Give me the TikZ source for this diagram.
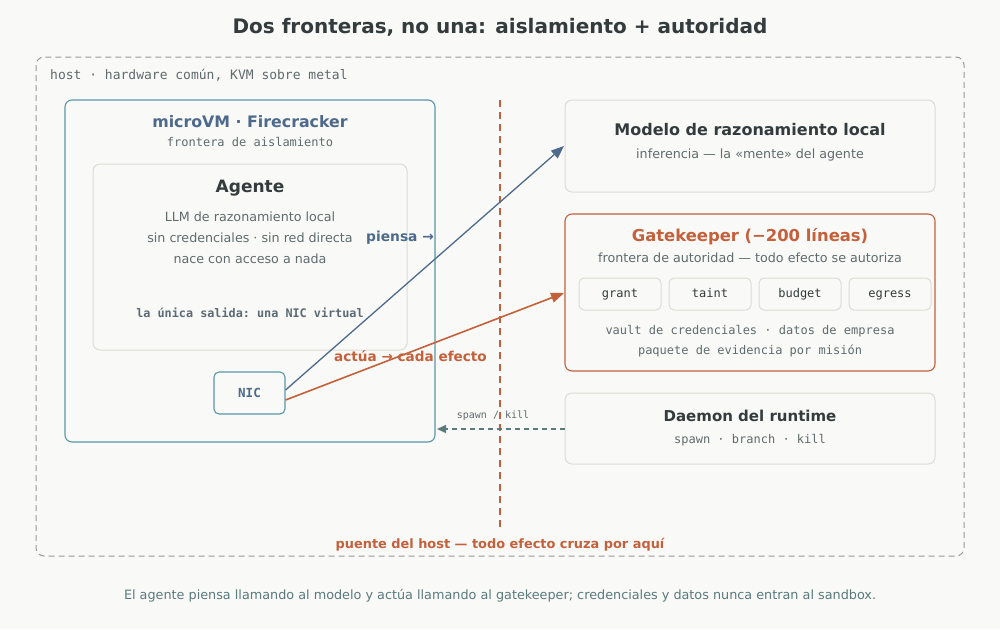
\documentclass[tikz,border=0pt]{standalone}
\usepackage{fontspec}
\setmainfont{DejaVu Sans}
\setmonofont{DejaVu Sans Mono}
\usetikzlibrary{arrows.meta}
\definecolor{bg}{HTML}{F9F9F7}
\definecolor{ink}{HTML}{333B3C}
\definecolor{slate}{HTML}{4D6A8C}
\definecolor{rust}{HTML}{C4603C}
\definecolor{teal}{HTML}{5A98A6}
\definecolor{soft}{HTML}{DEDBD3}
\definecolor{muted}{HTML}{5F6B6D}
\definecolor{hostgray}{HTML}{9A9A94}
\definecolor{arrowgray}{HTML}{5A7A7C}
\tikzset{
  card/.style={draw=soft, line width=1pt, rounded corners=7pt, fill=bg},
  tealcard/.style={draw=teal, line width=1.1pt, rounded corners=7pt, fill=bg},
  rustcard/.style={draw=rust, line width=1.1pt, rounded corners=7pt, fill=bg},
  chip/.style={draw=soft, line width=1pt, rounded corners=5pt, fill=bg, minimum width=82pt, minimum height=32pt, text height=8.5pt, text depth=2.5pt, font=\fontsize{12}{12}\ttfamily\selectfont, text=ink},
  boldtitle/.style={font=\fontsize{#1}{#1}\bfseries\selectfont, text=ink},
  body/.style={font=\fontsize{12.7}{13}\selectfont, text=muted},
  mono/.style={font=\fontsize{#1}{#1}\ttfamily\selectfont, text=muted},
}
\begin{document}
\begin{tikzpicture}[x=1pt,y=-1pt, inner sep=0pt]
\fill[bg] (0,0) rectangle (1000,629);
\useasboundingbox (0,0) rectangle (1000,629);

\node[boldtitle=20] (title) at (500,27) {Dos fronteras, no una: aislamiento + autoridad};

% host
\draw[hostgray, line width=1pt, dash pattern=on 6pt off 4pt, rounded corners=8pt] (36,57) rectangle (964,556);
\node[mono=13, anchor=west] (hostlbl) at (50,75) {host · hardware común, KVM sobre metal};

% bridge line
\coordinate (btop) at (500,100);
\coordinate (bbot) at (500,528);
\draw[rust, line width=1.4pt, dash pattern=on 7pt off 5pt] (btop) -- (bbot);
\node[font=\fontsize{12.9}{13}\bfseries\selectfont, text=rust] (bridge) at (500,545) {puente del host — todo efecto cruza por aquí};

% microVM
\draw[tealcard] (65,100) rectangle (435,442);
\coordinate (vmright) at (437,429);
\node[font=\fontsize{15.8}{16}\bfseries\selectfont, text=slate] (vmtitle) at (250,122) {microVM · Firecracker};
\node[mono=12] (vmsub) at (250,142) {frontera de aislamiento};

% Agente
\draw[card] (93,164) rectangle (407,350);
\node[boldtitle=17] (agtitle) at (250,188) {Agente};
\node[body] (ag1) at (250,217) {LLM de razonamiento local};
\node[body] (ag2) at (250,238) {sin credenciales · sin red directa};
\node[body] (ag3) at (250,259) {nace con acceso a nada};
\node[font=\fontsize{11.8}{12}\ttfamily\bfseries\selectfont, text=muted!80!slate] (ag4) at (250,313) {la única salida: una NIC virtual};

% NIC
\node[draw=teal, line width=1.1pt, rounded corners=5pt, fill=bg, minimum width=71pt, minimum height=42pt, font=\fontsize{12.5}{12}\ttfamily\bfseries\selectfont, text=slate] (nic) at (249.5,393) {NIC};

% Model
\draw[card] (565,100) rectangle (935,192);
\node[boldtitle=16] (mtitle) at (750,130) {Modelo de razonamiento local};
\node[body] (msub) at (750,155) {inferencia — la «mente» del agente};
\coordinate (mleft) at (564,146);

% Gatekeeper
\draw[rustcard] (565,214) rectangle (935,371);
\node[font=\fontsize{16.4}{16}\bfseries\selectfont, text=rust] (gtitle) at (750,237) {Gatekeeper (−200 líneas)};
\node[body] (gsub) at (750,258) {frontera de autoridad — todo efecto se autoriza};
\node[chip] (grant) at (620,294) {grant};
\node[chip] (taint) at (710,294) {taint};
\node[chip] (budget) at (800,294) {budget};
\node[chip] (egress) at (890,294) {egress};
\node[mono=12] (g1) at (750,331) {vault de credenciales · datos de empresa};
\node[mono=12] (g2) at (750,351) {paquete de evidencia por misión};
\coordinate (gleft) at (564,293);

% Daemon
\draw[card] (565,393) rectangle (935,464);
\node[boldtitle=15] (dtitle) at (750,416) {Daemon del runtime};
\node[mono=12] (dsub) at (750,440) {spawn · branch · kill};
\coordinate (dleft) at (565,429);

% arrows
\draw[slate, line width=1.3pt, -{Triangle[length=13pt,width=10pt]}] (nic.east |- 0,390) -- (mleft);
\draw[rust, line width=1.6pt, -{Triangle[length=13pt,width=10pt]}] (nic.east |- 0,400) -- (gleft);
\draw[arrowgray, line width=1.4pt, dash pattern=on 5pt off 4pt, -{Triangle[length=9pt,width=8pt]}] (dleft) -- (vmright);
\node[mono=10] (spk) at (493,416) {spawn / kill};

\node[font=\fontsize{13.8}{14}\bfseries\selectfont, text=slate, anchor=west] (piensa) at (366,238) {piensa →};
\node[font=\fontsize{13.6}{14}\bfseries\selectfont, text=rust, anchor=west] (actua) at (334,356) {actúa → cada efecto};

\node[font=\fontsize{12.8}{13}\selectfont, text=arrowgray] (caption) at (500,596) {El agente piensa llamando al modelo y actúa llamando al gatekeeper; credenciales y datos nunca entran al sandbox.};
\end{tikzpicture}
\end{document}
